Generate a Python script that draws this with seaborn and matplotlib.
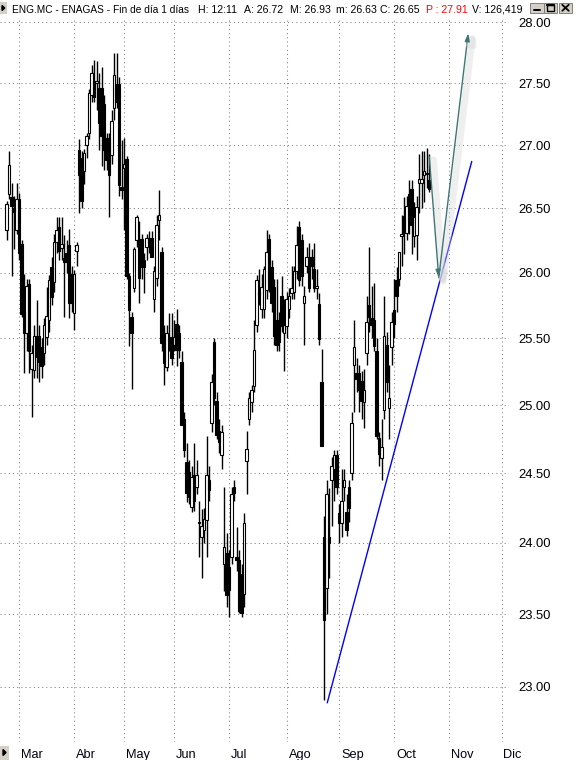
import numpy as np
import pandas as pd
import matplotlib
matplotlib.use("Agg")
import matplotlib.pyplot as plt
import matplotlib.patheffects as pe
from matplotlib.patches import Rectangle, Polygon
from matplotlib.lines import Line2D
from matplotlib.ticker import FixedLocator, NullLocator
import seaborn as sns

# ---------------------------------------------------------------- data
ticker = "ENG.MC"
company = "ENAGAS"
session_time = "12:11"
volume = "126,419"
target_price = 27.91

# Madrid exchange sessions: weekdays minus market holidays
market_holidays = ["2015-04-03", "2015-04-06", "2015-05-01"]
first_session = "2015-02-23"
last_calendar_day = "2015-12-31"

opens = [
    26.33, 26.61, 26.59, 26.50, 26.33,
    26.57, 26.22, 25.70, 25.54, 25.91, 25.27, 25.26, 25.52, 25.52, 25.43,
    25.39, 25.51, 25.64, 26.04, 25.93, 26.24, 26.35, 26.19, 26.11, 26.15,
    26.21, 25.99,
    25.69, 26.17, 26.96, 26.90, 26.79, 27.00, 27.10, 27.40, 27.52, 27.50,
    27.46, 27.46, 27.33, 27.06, 27.06, 26.92, 27.30, 27.49, 27.49, 26.67,
    26.82, 26.89, 25.97, 25.66, 25.88, 26.25, 26.26, 26.26, 26.10, 26.20,
    26.27, 26.27, 25.80, 25.96, 26.41, 26.16, 25.54, 25.28, 25.50, 25.51,
    25.45, 25.61, 25.54, 25.32, 24.90, 24.58, 24.51, 24.26, 24.49, 24.40,
    24.15, 24.04, 24.09, 24.16, 24.45, 24.87, 25.47, 25.03, 24.81, 24.63,
    23.85, 23.93,
    23.83, 23.90, 24.40, 23.90, 23.88, 23.78, 23.64, 24.59, 24.90, 25.02,
    25.14, 25.60, 25.85, 25.72, 25.72, 25.87, 26.26, 26.04, 25.89, 25.64,
    25.61, 25.82, 25.54,
    25.59, 25.72, 25.84, 25.85, 26.01, 26.35, 26.25, 25.77, 26.05, 26.12,
    26.12, 26.03, 25.88, 25.76, 25.17, 24.04, 23.68, 24.04, 24.45, 24.53,
    24.63,
    24.21, 24.14, 24.40, 24.22, 24.40, 24.50, 25.30, 25.24, 25.24, 25.18,
    25.02, 25.39, 25.75, 25.65, 25.64, 25.40, 24.76, 24.61, 24.96, 25.45,
    24.98, 25.43,
    25.71, 25.94, 25.95, 26.28, 26.44, 26.31, 26.61, 26.65, 26.28, 26.29,
    26.70, 26.70, 26.76, 26.77, 26.72,
]
highs = [
    26.56, 26.95, 26.70, 26.60, 26.70,
    26.62, 26.25, 25.99, 25.95, 25.95, 25.45, 25.60, 25.79, 25.60, 25.50,
    25.65, 25.89, 25.98, 26.12, 26.30, 26.43, 26.43, 26.43, 26.29, 26.25,
    26.34, 26.05,
    26.02, 26.24, 27.05, 26.95, 26.97, 27.10, 27.45, 27.65, 27.69, 27.68,
    27.58, 27.63, 27.40, 27.10, 27.10, 27.28, 27.75, 27.75, 27.55, 27.04,
    27.06, 26.91, 26.00, 25.70, 26.20, 26.45, 26.40, 26.30, 26.15, 26.30,
    26.32, 26.32, 26.05, 26.45, 26.64, 26.20, 25.60, 25.60, 25.69, 25.69,
    25.64, 25.72, 25.60, 25.40, 24.95, 24.72, 24.60, 24.55, 24.72, 24.60,
    24.30, 24.24, 24.25, 24.77, 24.55, 25.23, 25.50, 25.10, 24.90, 24.85,
    24.40, 24.07,
    23.95, 24.40, 24.45, 24.11, 23.95, 23.85, 24.21, 24.81, 25.10, 25.15,
    25.64, 25.98, 26.03, 25.99, 26.05, 26.33, 26.30, 26.10, 25.95, 25.95,
    25.70, 25.97, 25.80,
    25.85, 25.88, 26.05, 26.05, 26.36, 26.40, 26.30, 25.90, 26.20, 26.23,
    26.18, 26.23, 26.03, 25.84, 25.42, 24.19, 24.45, 24.39, 24.62, 24.67,
    24.67,
    24.28, 24.53, 24.53, 24.35, 24.45, 24.95, 25.64, 25.35, 25.30, 25.25,
    25.27, 25.82, 26.20, 25.90, 25.92, 25.50, 24.80, 24.90, 25.82, 25.55,
    25.30, 25.70,
    25.95, 26.04, 26.16, 26.45, 26.59, 26.60, 26.72, 26.72, 26.55, 26.60,
    26.93, 26.95, 26.95, 26.98, 26.93,
]
lows = [
    26.25, 26.57, 25.97, 26.18, 26.30,
    26.10, 25.66, 25.24, 25.40, 25.24, 24.91, 25.20, 25.20, 25.17, 25.20,
    25.30, 25.45, 25.55, 25.75, 25.85, 26.15, 26.10, 26.10, 25.66, 26.00,
    25.65, 25.70,
    25.56, 26.05, 26.46, 26.50, 26.69, 26.90, 27.05, 27.35, 27.35, 27.28,
    26.96, 26.83, 26.80, 26.80, 26.43, 26.85, 27.20, 27.30, 26.60, 26.57,
    26.33, 25.95, 25.44, 25.12, 25.85, 26.20, 25.77, 25.95, 25.84, 26.10,
    26.15, 26.15, 25.70, 25.90, 26.25, 25.40, 25.15, 25.25, 25.40, 25.30,
    25.40, 25.29, 25.35, 24.85, 24.62, 24.29, 24.28, 24.22, 24.23, 24.35,
    23.90, 23.75, 24.00, 23.90, 24.30, 24.80, 25.00, 24.75, 24.65, 24.53,
    23.66, 23.55,
    23.48, 23.85, 24.30, 23.80, 23.51, 23.48, 23.55, 24.35, 24.85, 24.95,
    25.10, 25.55, 25.75, 25.65, 25.65, 25.80, 25.85, 25.70, 25.45, 25.40,
    25.40, 25.55, 25.25,
    25.50, 25.65, 25.80, 25.80, 25.95, 25.90, 25.90, 25.45, 26.00, 25.85,
    25.95, 25.85, 25.80, 25.45, 24.70, 22.91, 23.50, 23.75, 24.12, 24.30,
    24.35,
    24.00, 24.04, 24.30, 24.05, 24.15, 24.45, 24.95, 25.10, 24.95, 24.90,
    24.83, 25.30, 25.55, 25.50, 25.40, 24.75, 24.55, 24.45, 24.90, 25.10,
    24.75, 25.30,
    25.50, 25.70, 25.90, 26.05, 26.14, 26.25, 26.30, 26.14, 26.20, 26.10,
    26.46, 26.50, 26.55, 26.66, 26.63,
]
closes = [
    26.53, 26.84, 26.52, 26.47, 26.57,
    26.15, 25.68, 25.54, 25.90, 25.40, 25.39, 25.52, 25.36, 25.32, 25.29,
    25.60, 25.67, 25.94, 25.81, 26.24, 26.33, 26.17, 26.22, 26.08, 26.08,
    25.77, 25.77,
    25.99, 26.21, 26.76, 26.56, 26.94, 27.07, 27.42, 27.58, 27.39, 27.52,
    27.18, 27.07, 26.96, 26.88, 26.76, 27.19, 27.57, 27.35, 26.68, 26.64,
    26.85, 25.97, 25.71, 25.54, 26.18, 26.43, 25.96, 26.04, 26.04, 26.27,
    26.23, 26.12, 26.01, 26.37, 26.45, 25.46, 25.31, 25.54, 25.48, 25.35,
    25.51, 25.41, 25.41, 24.85, 24.67, 24.36, 24.33, 24.47, 24.30, 24.49,
    24.14, 24.12, 24.17, 24.49, 24.38, 25.17, 25.05, 24.78, 24.73, 24.80,
    23.97, 23.63,
    23.67, 24.35, 24.36, 23.88, 23.52, 23.51, 24.14, 24.68, 25.05, 25.11,
    25.41, 25.94, 25.83, 25.89, 26.03, 26.16, 25.92, 25.77, 25.52, 25.45,
    25.47, 25.59, 25.60,
    25.80, 25.82, 25.88, 26.01, 26.21, 25.94, 25.97, 25.82, 26.12, 25.88,
    26.05, 25.88, 25.90, 25.49, 24.70, 23.46, 24.35, 24.00, 24.55, 24.63,
    24.40,
    24.14, 24.30, 24.45, 24.09, 24.25, 24.87, 25.43, 25.19, 25.11, 25.03,
    25.11, 25.62, 25.66, 25.60, 25.44, 24.77, 24.64, 24.69, 25.52, 25.17,
    25.05, 25.62,
    25.61, 25.82, 26.16, 26.30, 26.31, 26.52, 26.40, 26.37, 26.43, 26.51,
    26.73, 26.73, 26.79, 26.78, 26.65,
]

month_names = ["Mar", "Abr", "May", "Jun", "Jul", "Ago", "Sep", "Oct", "Nov", "Dic"]
price_levels = [23.0, 23.5, 24.0, 24.5, 25.0, 25.5, 26.0, 26.5, 27.0, 27.5, 28.0]

# support line drawn from the August low, and the projected path (session number, price)
support_sessions = [128.3, 186.1]
support_prices = [22.89, 26.87]
projection_sessions = [169.1, 172.9, 184.7]
projection_prices = [26.91, 25.96, target_price]

# ---------------------------------------------------------------- figure
sns.set_theme(style="white")
plt.rcParams["font.family"] = ["Liberation Sans", "DejaVu Sans"]

W, H = 577, 760
fig = plt.figure(figsize=(W / 100, H / 100), dpi=100)
fig.patch.set_facecolor("white")
ax = fig.add_axes([0, 1 - 742 / H, 509 / W, (742 - 17) / H])
ax.set_facecolor("white")

sessions = pd.bdate_range(first_session, last_calendar_day, freq="C",
                          holidays=market_holidays)
month_pos = [int(np.flatnonzero(sessions.month == m)[0]) for m in range(3, 13)]

df = pd.DataFrame({"open": opens, "high": highs, "low": lows, "close": closes})
df["pos"] = np.arange(len(df))
df["up"] = df["close"] >= df["open"]
df["body"] = np.maximum((df["close"] - df["open"]).abs(), 0.012)
df["base"] = np.minimum(df["open"], df["close"])

ax.set_yscale("log")

# wicks
ax.vlines(df["pos"], df["low"], df["high"], color="black", lw=1.0, zorder=2)
# bodies: hollow for rising sessions, solid for falling ones
upd = df[df["up"]]
dnd = df[~df["up"]]
ax.bar(upd["pos"], upd["body"], bottom=upd["base"], width=0.9,
       facecolor="white", edgecolor="black", linewidth=0.8, zorder=3)
ax.bar(dnd["pos"], dnd["body"], bottom=dnd["base"], width=0.9,
       facecolor="black", edgecolor="black", linewidth=0.8, zorder=3)

# support line
sns.lineplot(x=support_sessions, y=support_prices, ax=ax, color="#0000ff",
             linewidth=1.0, sort=False, estimator=None, legend=False, zorder=4)

# projected path with soft shadow
arrow_color = "#3f7676"
for k in range(len(projection_sessions) - 1):
    ax.annotate(
        "", xy=(projection_sessions[k + 1], projection_prices[k + 1]),
        xytext=(projection_sessions[k], projection_prices[k]),
        arrowprops=dict(
            arrowstyle="-|>,head_length=0.45,head_width=0.14",
            color=arrow_color, lw=1.0, shrinkA=0, shrinkB=0, mutation_scale=10,
            path_effects=[pe.SimpleLineShadow(offset=(3, -2.5), shadow_color="#d8d8d8",
                                              alpha=0.4, linewidth=5),
                          pe.Normal()]),
        zorder=5, annotation_clip=False)

ax.set_xlim(-2.6, 201)
ax.set_ylim(22.626, 28.044)

# axes: right-hand price scale, month grid
ax.yaxis.set_major_locator(FixedLocator(price_levels))
ax.yaxis.set_minor_locator(NullLocator())
ax.yaxis.tick_right()
ax.set_yticklabels([f"{v:.2f}" for v in price_levels])
ax.tick_params(axis="y", length=0, pad=6.5, labelsize=9.4, labelcolor="black")
ax.xaxis.set_major_locator(FixedLocator(month_pos))
ax.xaxis.set_minor_locator(NullLocator())
ax.set_xticklabels([])
ax.tick_params(axis="x", length=0)
ax.grid(True, color="#808080", linestyle=(0, (1, 3)), linewidth=0.75)
ax.set_axisbelow(True)
for s in ax.spines.values():
    s.set_visible(False)
ax.set_xlabel("")
ax.set_ylabel("")

for name, p in zip(month_names, month_pos):
    ax.annotate(name, xy=(p, 0), xycoords=("data", "axes fraction"),
                xytext=(2, -7), textcoords="offset pixels", ha="left", va="top",
                fontsize=9.2, color="#000010", annotation_clip=False)

# ---------------------------------------------------------------- window chrome
ov = fig.add_axes([0, 0, 1, 1], zorder=10)
ov.set_xlim(0, W)
ov.set_ylim(H, 0)
ov.axis("off")
ov.patch.set_alpha(0)

face = "#d4d0c8"
# title-bar toggle
ov.add_patch(Rectangle((0, 2), 6.5, 12, facecolor=face, edgecolor="none"))
ov.add_patch(Polygon([(2, 5.5), (2, 10.5), (4.8, 8)], closed=True, color="black"))
# bottom scroll toggle
ov.add_patch(Rectangle((0, 746), 9, 14, facecolor=face, edgecolor="none"))
ov.add_patch(Polygon([(3, 749.5), (3, 755.5), (6, 752.5)], closed=True, color="black"))

# window buttons
for bx in (530, 543.5, 558.5):
    ov.add_patch(Rectangle((bx, 2.5), 13.5, 10, facecolor=face, edgecolor="#808080", lw=0.7))
ov.add_line(Line2D([533.5, 539.5], [10.3, 10.3], color="black", lw=1.4))
ov.add_patch(Rectangle((546.5, 4.8), 7.5, 6.2, facecolor="none", edgecolor="black", lw=1.0))
ov.add_line(Line2D([546.5, 554], [5.3, 5.3], color="black", lw=1.6))
ov.add_line(Line2D([562.3, 568.7], [4.8, 10.8], color="black", lw=1.3))
ov.add_line(Line2D([562.3, 568.7], [10.8, 4.8], color="black", lw=1.3))

# title line with last-session values, one field at a time
title_fs = 7.6
title_fields = [
    (f"{ticker} - {company} - Fin de día 1 días", 12.0, "black", 7.3),
    (f"H: {session_time}", 198.5, "black", title_fs),
    (f"A: {opens[-1]:.2f}", 244.5, "black", title_fs),
    (f"M: {highs[-1]:.2f}", 290.4, "black", title_fs),
    (f"m: {lows[-1]:.2f}", 336.4, "black", title_fs),
    (f"C: {closes[-1]:.2f}", 380.5, "black", title_fs),
    (f"P : {target_price:.2f}", 426.5, "#ff0000", title_fs),
    (f"V: {volume}", 471.7, "black", title_fs),
]
for text, x0, col, fs in title_fields:
    ov.text(x0, 12.6, text, va="baseline", ha="left", fontsize=fs, color=col)

fig.savefig("out.png", dpi=100, facecolor="white")
